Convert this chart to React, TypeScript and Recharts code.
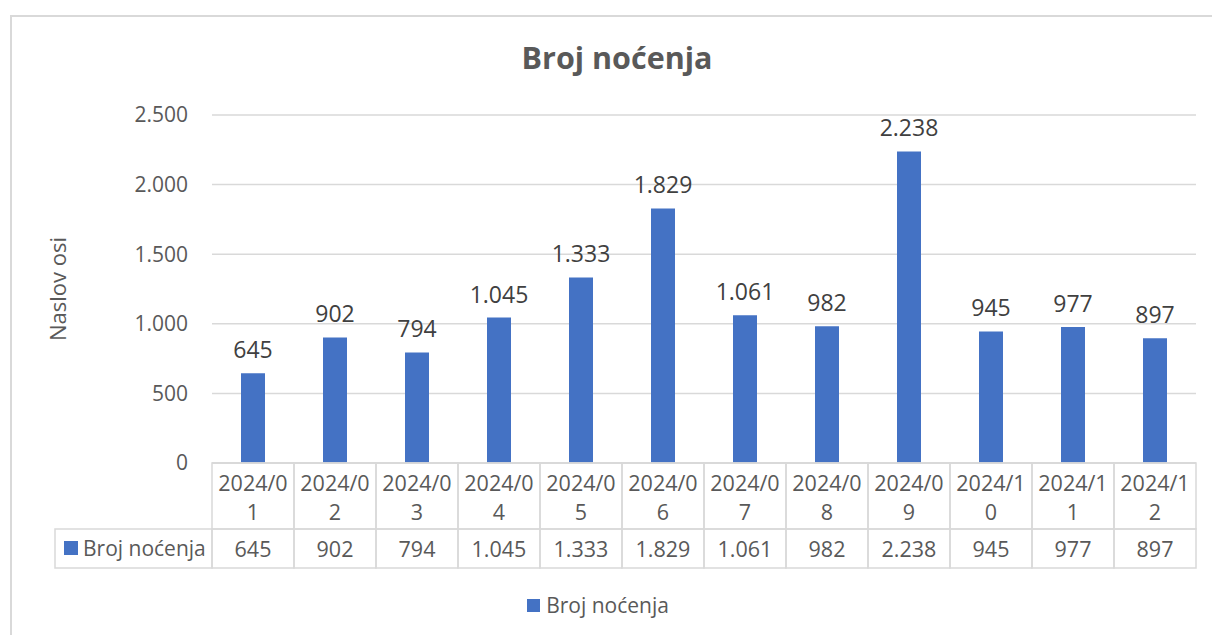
import React from "react";
import { BarChart, Bar, XAxis, YAxis, CartesianGrid, LabelList, Legend } from "recharts";

const months = [
  "2024/01", "2024/02", "2024/03", "2024/04", "2024/05", "2024/06",
  "2024/07", "2024/08", "2024/09", "2024/10", "2024/11", "2024/12",
];
const nights = [645, 902, 794, 1045, 1333, 1829, 1061, 982, 2238, 945, 977, 897];
const yTicks = [0, 500, 1000, 1500, 2000, 2500];
const seriesName = "Broj noćenja";

const data = months.map((m, i) => ({ month: m, value: nights[i] }));

const FONT = "'Open Sans', sans-serif";
const BLUE = "#4472C4";
const GRID = "#d9d9d9";
const TXT = "#595959";

const W = 1212;
const H = 635;
const PLOT_LEFT = 212;
const PLOT_RIGHT = 1196;
const BAND = (PLOT_RIGHT - PLOT_LEFT) / months.length;
const HEAD_H = 66;
const ROW_H = 39;

// dot as thousands separator, like the source
const fmt = (v: number) => String(v).replace(/\B(?=(\d{3})+(?!\d))/g, ".");

function TableTick(props: any) {
  const { x, y, payload } = props;
  const idx = payload.index;
  const label: string = payload.value;
  const left = x - BAND / 2;
  return (
    <g>
      <rect x={left} y={y} width={BAND} height={HEAD_H} fill="none" stroke={GRID} strokeWidth={1.5} />
      <rect x={left} y={y + HEAD_H} width={BAND} height={ROW_H} fill="none" stroke={GRID} strokeWidth={1.5} />
      <text x={x} y={y + 19} textAnchor="middle" dominantBaseline="central" fontFamily={FONT} fontSize={21.5} fill={TXT}>
        {label.slice(0, 6)}
      </text>
      <text x={x} y={y + 48} textAnchor="middle" dominantBaseline="central" fontFamily={FONT} fontSize={21.5} fill={TXT}>
        {label.slice(6)}
      </text>
      <text x={x} y={y + HEAD_H + 19} textAnchor="middle" dominantBaseline="central" fontFamily={FONT} fontSize={21.5} fill={TXT}>
        {fmt(nights[idx])}
      </text>
      {idx === 0 ? (
        <g>
          <rect x={55} y={y + HEAD_H} width={left - 55} height={ROW_H} fill="none" stroke={GRID} strokeWidth={1.5} />
          <rect x={64} y={y + HEAD_H + 12} width={14} height={14} fill={BLUE} />
          <text x={83} y={y + HEAD_H + 19} dominantBaseline="central" fontFamily={FONT} fontSize={21} fill={TXT}>
            {seriesName}
          </text>
        </g>
      ) : null}
    </g>
  );
}

function LegendContent() {
  return (
    <div style={{ display: "flex", justifyContent: "center", alignItems: "center", height: 30, fontFamily: FONT, fontSize: 21, color: TXT }}>
      <span style={{ width: 13, height: 13, background: BLUE, display: "inline-block", marginRight: 6 }} />
      <span>{seriesName}</span>
    </div>
  );
}

export default function App() {
  return (
    <div style={{ position: "absolute", left: 0, top: 0, width: W, height: H, background: "#fff", overflow: "hidden" }}>
      <div style={{ position: "absolute", left: 10, top: 15, width: W, height: H, border: `2px solid ${GRID}`, boxSizing: "border-box" }} />
      <div style={{ position: "absolute", left: 0, top: 36, width: W + 22, textAlign: "center", fontFamily: FONT, fontWeight: 700, fontSize: 30.5, color: TXT }}>
        {seriesName}
      </div>
      <div style={{ position: "absolute", left: 0, top: 0 }}>
        <BarChart width={W} height={H} data={data} margin={{ top: 115, right: W - PLOT_RIGHT, left: 0, bottom: 37 }} barCategoryGap={29}>
          <CartesianGrid vertical={false} stroke={GRID} strokeWidth={1.5} />
          <XAxis
            dataKey="month"
            height={HEAD_H + ROW_H}
            interval={0}
            tickSize={0}
            tickMargin={0}
            axisLine={{ stroke: GRID, strokeWidth: 1.5 }}
            tick={<TableTick />}
          />
          <YAxis
            width={PLOT_LEFT}
            domain={[0, 2500]}
            ticks={yTicks}
            tickFormatter={fmt}
            axisLine={false}
            tickSize={0}
            tickMargin={24}
            tick={{ fontFamily: FONT, fontSize: 21, fill: TXT }}
            label={{ value: "Naslov osi", angle: -90, position: "insideLeft", offset: 58, style: { fontFamily: FONT, fontSize: 22, fill: TXT, textAnchor: "middle" } }}
          />
          <Legend verticalAlign="bottom" height={30} wrapperStyle={{ bottom: 15 }} content={<LegendContent />} />
          <Bar dataKey="value" name={seriesName} fill={BLUE} isAnimationActive={false}>
            <LabelList dataKey="value" position="top" offset={15} formatter={(v: any) => fmt(Number(v))} style={{ fontFamily: FONT, fontSize: 23, fill: "#404040" }} />
          </Bar>
        </BarChart>
      </div>
    </div>
  );
}
